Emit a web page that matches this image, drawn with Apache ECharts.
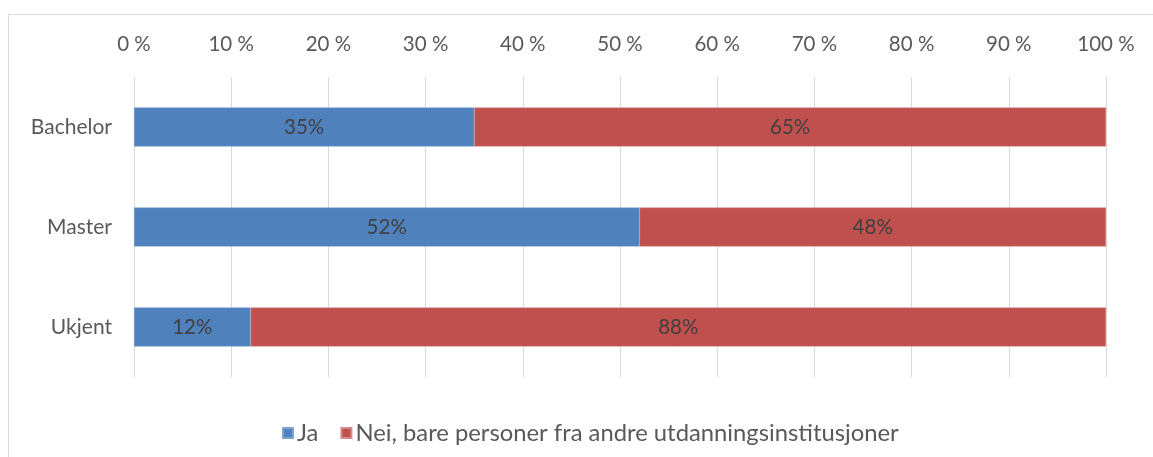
<!DOCTYPE html>
<html><head><meta charset="utf-8">
<script src="https://cdn.jsdelivr.net/npm/echarts@6/dist/echarts.min.js"></script>
<style>html,body{margin:0;padding:0;background:#fff}#c{width:1153px;height:457px}</style>
</head><body><div id="c"></div>
<script>
const categories = ['Bachelor', 'Master', 'Ukjent'];
const jaValues = [35, 52, 12];
const neiValues = [65, 48, 88];
const seriesNames = ['Ja', 'Nei, bare personer fra andre utdanningsinstitusjoner'];
const FONT = 'Lato, "Open Sans", sans-serif';
const chart = echarts.init(document.getElementById('c'), null, {renderer: 'canvas'});
const lbl = {show: true, position: 'inside', formatter: '{c}%', color: '#404040', fontSize: 20.5, fontFamily: FONT};
chart.setOption({
  animation: false,
  graphic: [{type: 'rect', shape: {x: 8.5, y: 14.5, width: 1200, height: 500}, style: {fill: 'none', stroke: '#d9d9d9', lineWidth: 1}, silent: true}],
  grid: {left: 134, right: 47, top: 77, bottom: 80},
  legend: {left: 277, top: 416, itemWidth: 10, itemHeight: 10, itemGap: 22, icon: 'rect',
    textStyle: {color: '#595959', fontSize: 23.8, fontFamily: FONT, padding: [0, 0, 0, -1]}, data: seriesNames},
  xAxis: {type: 'value', position: 'top', min: 0, max: 100, interval: 10,
    axisLine: {show: false}, axisTick: {show: false},
    axisLabel: {formatter: '{value} %', color: '#595959', fontSize: 20.5, fontFamily: FONT, margin: 22},
    splitLine: {lineStyle: {color: '#d9d9d9', width: 1}}},
  yAxis: {type: 'category', data: categories, inverse: true,
    axisLine: {show: false}, axisTick: {show: false},
    axisLabel: {color: '#595959', fontSize: 21, fontFamily: FONT, margin: 22}},
  series: [
    {name: seriesNames[0], type: 'bar', stack: 't', data: jaValues, barWidth: 39, label: lbl,
     itemStyle: {color: '#4f81bd', borderColor: '#7fa3cf', borderWidth: 0.5}},
    {name: seriesNames[1], type: 'bar', stack: 't', data: neiValues, barWidth: 39, label: lbl,
     itemStyle: {color: '#c0504d', borderColor: '#d48a88', borderWidth: 0.5}}
  ]
});
</script></body></html>
